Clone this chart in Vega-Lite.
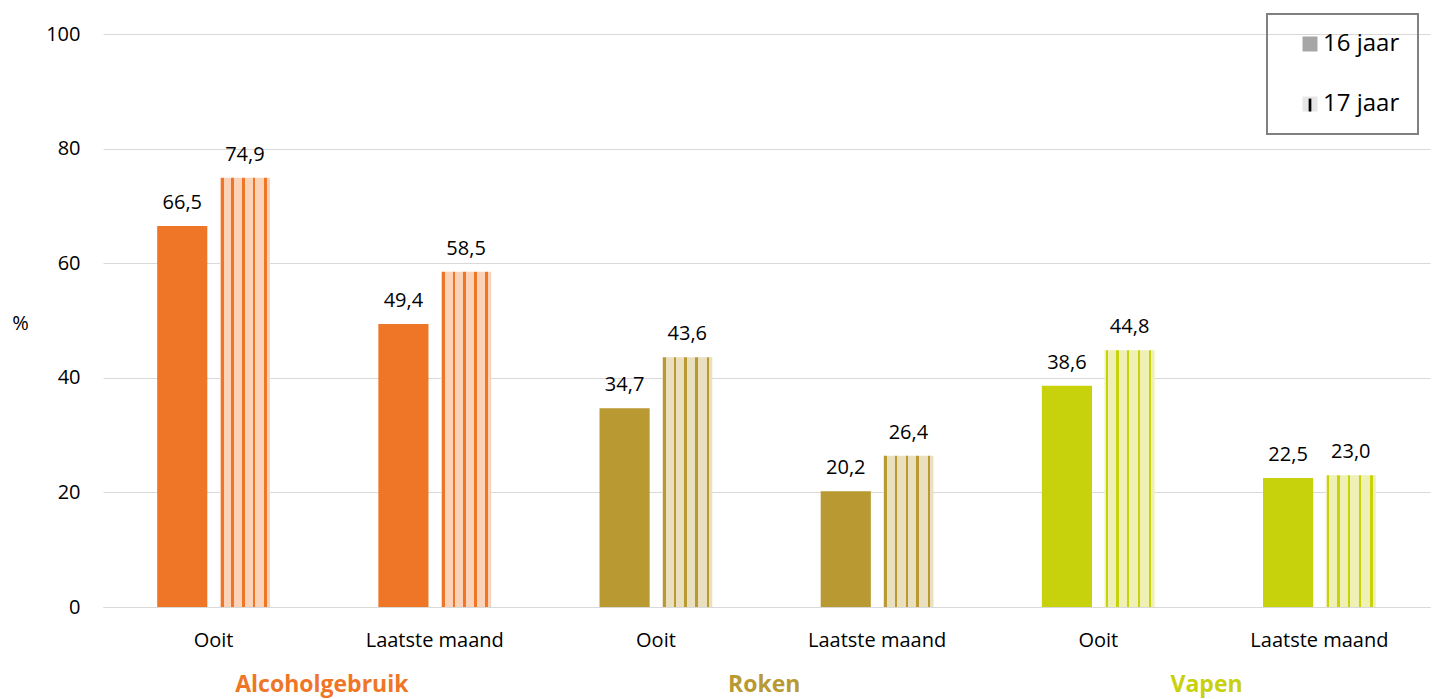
{
  "$schema": "https://vega.github.io/schema/vega-lite/v6.json",
  "width": 1327,
  "height": 573,
  "autosize": {"type": "none"},
  "padding": {"left": 103, "top": 34, "right": 2, "bottom": 92},
  "config": {
    "view": {"stroke": null},
    "font": "Open Sans",
    "locale": {"number": {"decimal": ",", "thousands": ".", "grouping": [3], "currency": ["€", ""]}}
  },
  "datasets": {
    "bars": [
      {"cat": "Alcoholgebruik|Ooit", "group": "Alcoholgebruik", "sub": "Ooit", "age": "16 jaar", "leeftijd": "16 jaar", "value": 66.5},
      {"cat": "Alcoholgebruik|Ooit", "group": "Alcoholgebruik", "sub": "Ooit", "age": "17 jaar", "leeftijd": "17 jaar", "value": 74.9},
      {"cat": "Alcoholgebruik|Laatste maand", "group": "Alcoholgebruik", "sub": "Laatste maand", "age": "16 jaar", "leeftijd": "16 jaar", "value": 49.4},
      {"cat": "Alcoholgebruik|Laatste maand", "group": "Alcoholgebruik", "sub": "Laatste maand", "age": "17 jaar", "leeftijd": "17 jaar", "value": 58.5},
      {"cat": "Roken|Ooit", "group": "Roken", "sub": "Ooit", "age": "16 jaar", "leeftijd": "16 jaar", "value": 34.7},
      {"cat": "Roken|Ooit", "group": "Roken", "sub": "Ooit", "age": "17 jaar", "leeftijd": "17 jaar", "value": 43.6},
      {"cat": "Roken|Laatste maand", "group": "Roken", "sub": "Laatste maand", "age": "16 jaar", "leeftijd": "16 jaar", "value": 20.2},
      {"cat": "Roken|Laatste maand", "group": "Roken", "sub": "Laatste maand", "age": "17 jaar", "leeftijd": "17 jaar", "value": 26.4},
      {"cat": "Vapen|Ooit", "group": "Vapen", "sub": "Ooit", "age": "16 jaar", "leeftijd": "16 jaar", "value": 38.6},
      {"cat": "Vapen|Ooit", "group": "Vapen", "sub": "Ooit", "age": "17 jaar", "leeftijd": "17 jaar", "value": 44.8},
      {"cat": "Vapen|Laatste maand", "group": "Vapen", "sub": "Laatste maand", "age": "16 jaar", "leeftijd": "16 jaar", "value": 22.5},
      {"cat": "Vapen|Laatste maand", "group": "Vapen", "sub": "Laatste maand", "age": "17 jaar", "leeftijd": "17 jaar", "value": 23.0}
    ],
    "groups": [
      {"cat": "Alcoholgebruik|Ooit", "group": "Alcoholgebruik"},
      {"cat": "Roken|Ooit", "group": "Roken"},
      {"cat": "Vapen|Ooit", "group": "Vapen"}
    ]
  },
  "encoding": {
    "x": {
      "field": "cat",
      "type": "nominal",
      "scale": {
        "domain": ["Alcoholgebruik|Ooit", "Alcoholgebruik|Laatste maand", "Roken|Ooit", "Roken|Laatste maand", "Vapen|Ooit", "Vapen|Laatste maand"],
        "paddingInner": 0.49,
        "paddingOuter": 0.245
      },
      "axis": {
        "title": null,
        "domainColor": "#D9D9D9",
        "domainWidth": 1,
        "ticks": false,
        "labelAngle": 0,
        "labelFontSize": 20,
        "labelColor": "#000000",
        "labelPadding": 23,
        "labelExpr": "split(datum.value, '|')[1]"
      }
    }
  },
  "layer": [
    {
      "data": {"name": "bars"},
      "mark": {"type": "bar", "opacity": 0},
      "encoding": {
        "xOffset": {"field": "age", "type": "nominal", "scale": {"paddingInner": 0.2, "paddingOuter": 0}},
        "y": {
          "field": "value",
          "type": "quantitative",
          "scale": {"domain": [0, 100]},
          "axis": {
            "values": [0, 20, 40, 60, 80, 100],
            "title": "%",
            "domain": false,
            "ticks": false,
            "grid": true,
            "gridColor": "#D9D9D9",
            "labelFontSize": 20,
            "labelPadding": 23,
            "labelColor": "#000000",
            "titleAngle": 0,
            "titleX": -83,
            "titleY": 289,
            "titleFontSize": 20,
            "titleFontWeight": "normal",
            "titleColor": "#000000",
            "titleAlign": "center",
            "titleBaseline": "middle"
          }
        },
        "color": {
          "field": "age",
          "type": "nominal",
          "scale": {"range": ["#A6A6A6", "#E6E6E6"]},
          "legend": {
            "title": null,
            "orient": "none",
            "legendX": 1164,
            "legendY": -20,
            "zindex": 0,
            "symbolType": "square",
            "symbolSize": 225,
            "symbolOpacity": 1,
            "symbolStrokeWidth": 0,
            "symbolOffset": 13,
            "labelFontSize": 24,
            "labelColor": "#000000",
            "labelOffset": 1,
            "labelLimit": 300,
            "rowPadding": 36,
            "padding": 18,
            "strokeColor": "#808080",
            "encode": {
              "legend": {"update": {"strokeWidth": {"value": 2}}}
            }
          }
        }
      }
    },
    {
      "data": {"name": "bars"},
      "mark": {"type": "point", "filled": true, "color": "#000000", "opacity": 0},
      "encoding": {
        "y": {"field": "value", "type": "quantitative"},
        "shape": {
          "field": "leeftijd",
          "type": "nominal",
          "scale": {"domain": ["16 jaar", "17 jaar"], "range": ["M0,0", "M-0.18,-0.72L0.18,-0.72L0.18,1L-0.18,1Z"]},
          "legend": {
            "title": null,
            "orient": "none",
            "legendX": 1164,
            "legendY": -20,
            "zindex": 1,
            "symbolSize": 225,
            "symbolOpacity": 1,
            "symbolFillColor": "#000000",
            "symbolStrokeWidth": 0,
            "symbolOffset": 13,
            "labelFontSize": 24,
            "labelColor": "transparent",
            "labelOffset": 1,
            "labelLimit": 300,
            "rowPadding": 36,
            "padding": 18
          }
        }
      }
    },
    {
      "data": {"name": "bars"},
      "transform": [{"filter": "datum.age === '16 jaar'"}],
      "mark": {"type": "bar"},
      "encoding": {
        "xOffset": {"field": "age", "type": "nominal"},
        "y": {"field": "value", "type": "quantitative"},
        "fill": {
          "condition": [
            {"test": "datum.group === 'Alcoholgebruik'", "value": "#EF7627"},
            {"test": "datum.group === 'Roken'", "value": "#B99931"}
          ],
          "value": "#C7D10C"
        }
      }
    },
    {
      "data": {"name": "bars"},
      "transform": [{"filter": "datum.age === '17 jaar'"}],
      "mark": {"type": "bar"},
      "encoding": {
        "xOffset": {"field": "age", "type": "nominal"},
        "y": {"field": "value", "type": "quantitative"},
        "fill": {
          "condition": [
            {"test": "datum.group === 'Alcoholgebruik'", "value": {"gradient": "linear", "x1": 0, "x2": 1, "y1": 0, "y2": 0, "stops": [
              {"offset": 0, "color": "#FAD3B9"}, {"offset": 0.02, "color": "#FAD3B9"}, {"offset": 0.02, "color": "#EF7627"}, {"offset": 0.075, "color": "#EF7627"}, {"offset": 0.075, "color": "#FAD3B9"},
              {"offset": 0.23, "color": "#FAD3B9"}, {"offset": 0.23, "color": "#EF7627"}, {"offset": 0.28, "color": "#EF7627"}, {"offset": 0.28, "color": "#FAD3B9"},
              {"offset": 0.445, "color": "#FAD3B9"}, {"offset": 0.445, "color": "#EF7627"}, {"offset": 0.495, "color": "#EF7627"}, {"offset": 0.495, "color": "#FAD3B9"},
              {"offset": 0.66, "color": "#FAD3B9"}, {"offset": 0.66, "color": "#EF7627"}, {"offset": 0.71, "color": "#EF7627"}, {"offset": 0.71, "color": "#FAD3B9"},
              {"offset": 0.885, "color": "#FAD3B9"}, {"offset": 0.885, "color": "#EF7627"}, {"offset": 0.935, "color": "#EF7627"}, {"offset": 0.935, "color": "#FAD3B9"},
              {"offset": 1, "color": "#FAD3B9"}]}},
            {"test": "datum.group === 'Roken'", "value": {"gradient": "linear", "x1": 0, "x2": 1, "y1": 0, "y2": 0, "stops": [
              {"offset": 0, "color": "#EADFBE"}, {"offset": 0.02, "color": "#EADFBE"}, {"offset": 0.02, "color": "#B99931"}, {"offset": 0.075, "color": "#B99931"}, {"offset": 0.075, "color": "#EADFBE"},
              {"offset": 0.23, "color": "#EADFBE"}, {"offset": 0.23, "color": "#B99931"}, {"offset": 0.28, "color": "#B99931"}, {"offset": 0.28, "color": "#EADFBE"},
              {"offset": 0.445, "color": "#EADFBE"}, {"offset": 0.445, "color": "#B99931"}, {"offset": 0.495, "color": "#B99931"}, {"offset": 0.495, "color": "#EADFBE"},
              {"offset": 0.66, "color": "#EADFBE"}, {"offset": 0.66, "color": "#B99931"}, {"offset": 0.71, "color": "#B99931"}, {"offset": 0.71, "color": "#EADFBE"},
              {"offset": 0.885, "color": "#EADFBE"}, {"offset": 0.885, "color": "#B99931"}, {"offset": 0.935, "color": "#B99931"}, {"offset": 0.935, "color": "#EADFBE"},
              {"offset": 1, "color": "#EADFBE"}]}}
          ],
          "value": {"gradient": "linear", "x1": 0, "x2": 1, "y1": 0, "y2": 0, "stops": [
            {"offset": 0, "color": "#EEF1B3"}, {"offset": 0.02, "color": "#EEF1B3"}, {"offset": 0.02, "color": "#C7D10C"}, {"offset": 0.075, "color": "#C7D10C"}, {"offset": 0.075, "color": "#EEF1B3"},
            {"offset": 0.23, "color": "#EEF1B3"}, {"offset": 0.23, "color": "#C7D10C"}, {"offset": 0.28, "color": "#C7D10C"}, {"offset": 0.28, "color": "#EEF1B3"},
            {"offset": 0.445, "color": "#EEF1B3"}, {"offset": 0.445, "color": "#C7D10C"}, {"offset": 0.495, "color": "#C7D10C"}, {"offset": 0.495, "color": "#EEF1B3"},
            {"offset": 0.66, "color": "#EEF1B3"}, {"offset": 0.66, "color": "#C7D10C"}, {"offset": 0.71, "color": "#C7D10C"}, {"offset": 0.71, "color": "#EEF1B3"},
            {"offset": 0.885, "color": "#EEF1B3"}, {"offset": 0.885, "color": "#C7D10C"}, {"offset": 0.935, "color": "#C7D10C"}, {"offset": 0.935, "color": "#EEF1B3"},
            {"offset": 1, "color": "#EEF1B3"}]}
        }
      }
    },
    {
      "data": {"name": "bars"},
      "mark": {"type": "text", "baseline": "alphabetic", "dy": -17, "fontSize": 20, "color": "#000000"},
      "encoding": {
        "xOffset": {"field": "age", "type": "nominal"},
        "y": {"field": "value", "type": "quantitative"},
        "text": {"field": "value", "type": "quantitative", "format": ".1f"}
      }
    },
    {
      "data": {"name": "groups"},
      "mark": {"type": "text", "baseline": "middle", "fontSize": 23, "fontWeight": "bold"},
      "encoding": {
        "x": {"field": "cat", "type": "nominal", "bandPosition": 1.46},
        "y": {"datum": -13.6},
        "text": {"field": "group", "type": "nominal"},
        "color": {
          "condition": [
            {"test": "datum.group === 'Alcoholgebruik'", "value": "#EF7627"},
            {"test": "datum.group === 'Roken'", "value": "#B99931"}
          ],
          "value": "#C7D10C"
        }
      }
    }
  ]
}
